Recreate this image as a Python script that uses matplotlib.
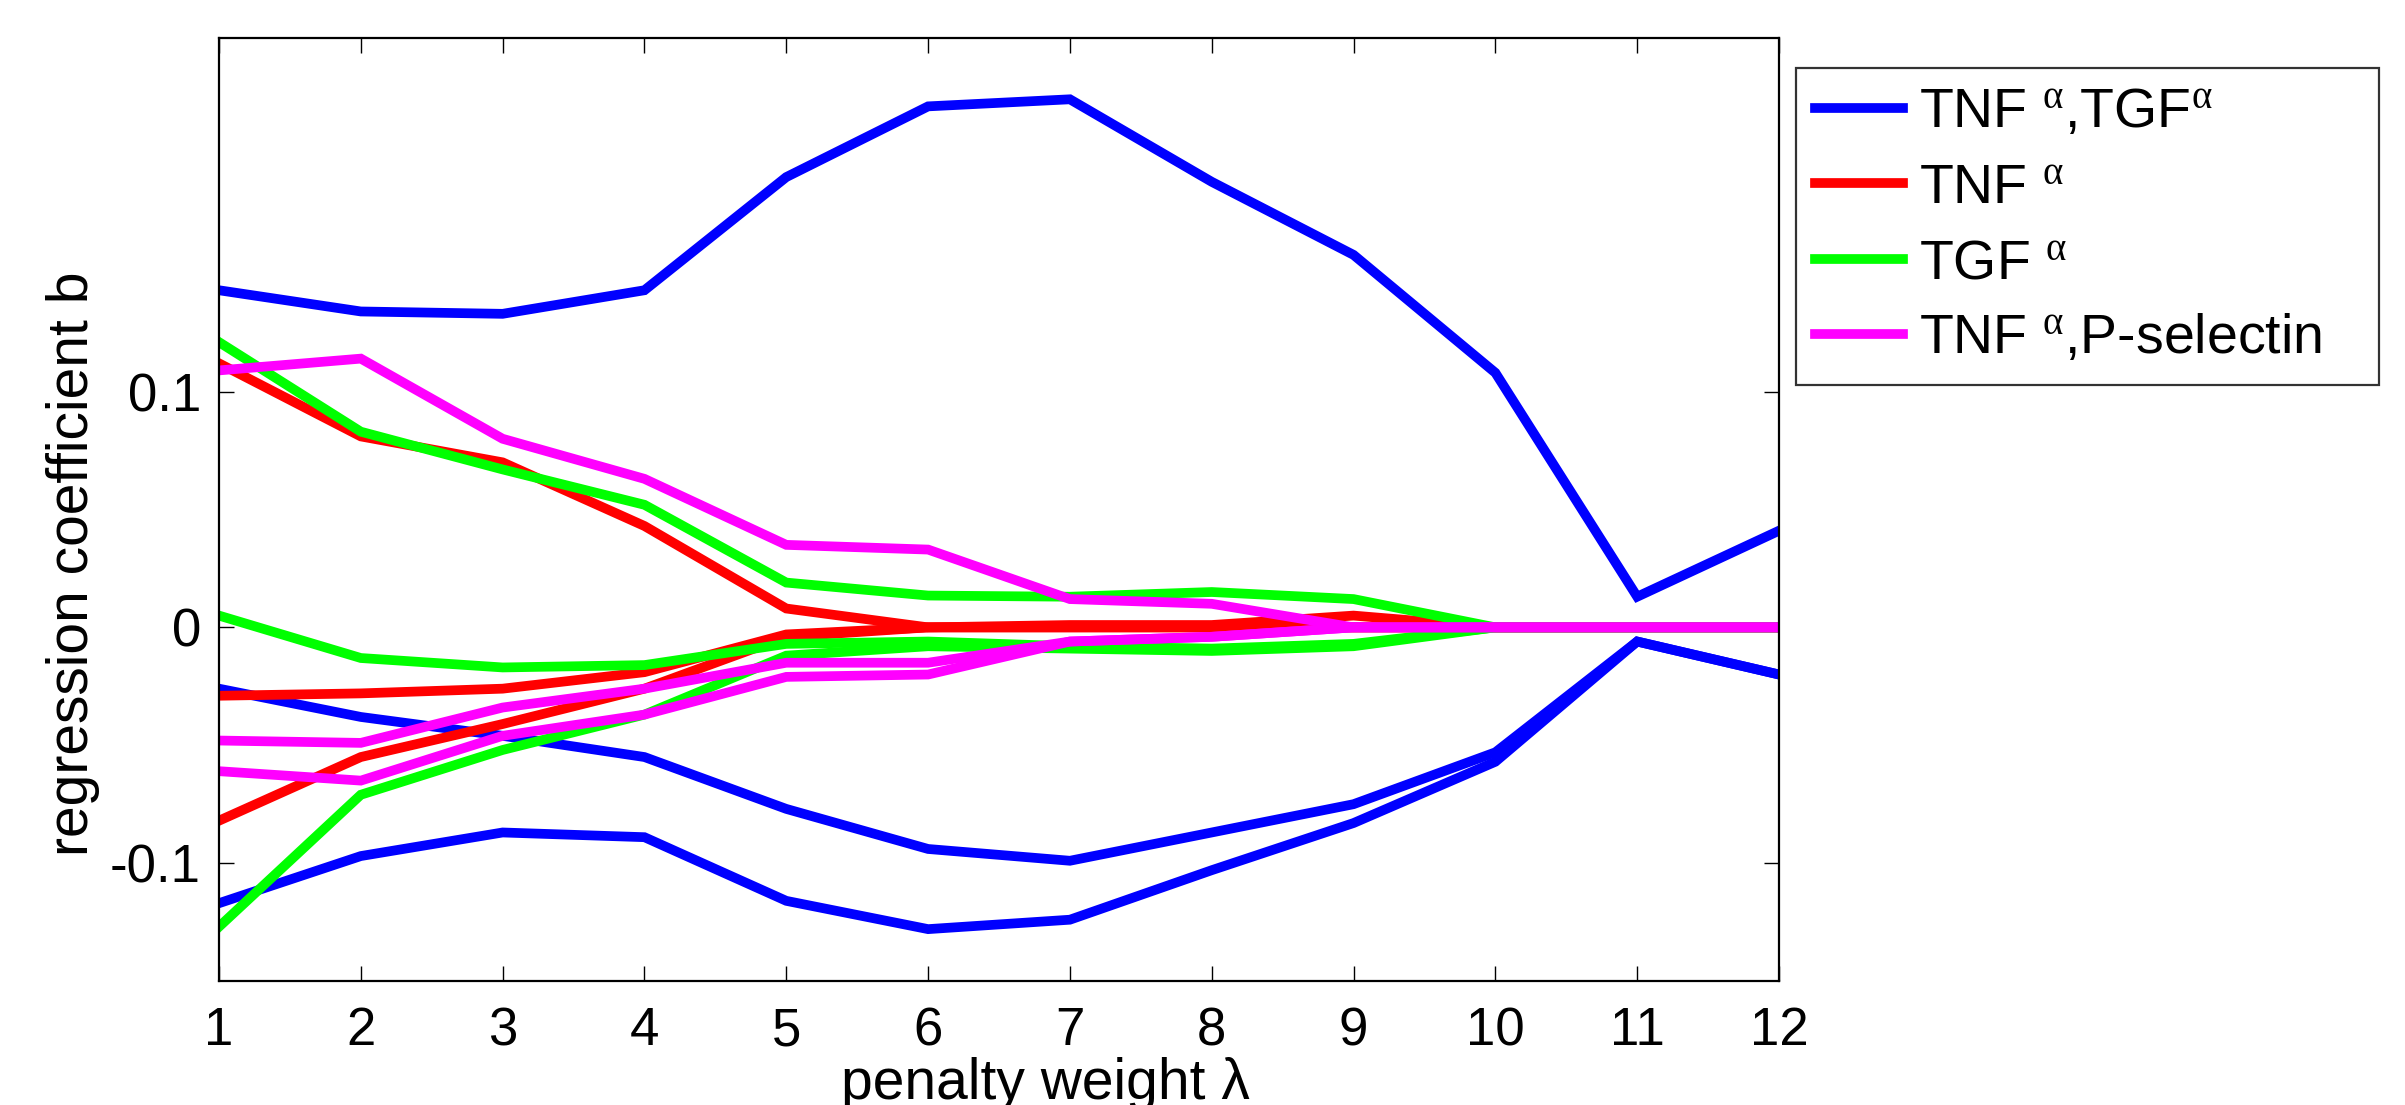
import matplotlib
matplotlib.use("Agg")
import matplotlib.pyplot as plt

plt.rcParams['font.family'] = ['Liberation Sans', 'DejaVu Sans']
plt.rcParams['axes.unicode_minus'] = False
plt.rcParams['mathtext.fontset'] = 'custom'
plt.rcParams['mathtext.rm'] = 'Liberation Serif'
plt.rcParams['mathtext.it'] = 'Liberation Serif:italic'

# penalty weight steps
lam = [1, 2, 3, 4, 5, 6, 7, 8, 9, 10, 11, 12]

# TNF alpha, TGF alpha (blue)
blue_a = [0.143, 0.134, 0.133, 0.143, 0.191, 0.221, 0.224, 0.189, 0.158, 0.108, 0.013, 0.041]
blue_b = [-0.026, -0.038, -0.046, -0.055, -0.077, -0.094, -0.099, -0.087, -0.075, -0.053, -0.006, -0.020]
blue_c = [-0.117, -0.097, -0.087, -0.089, -0.116, -0.128, -0.124, -0.103, -0.083, -0.057, -0.006, -0.020]

# TNF alpha (red)
red_a = [0.112, 0.081, 0.070, 0.043, 0.008, 0.0, 0.001, 0.001, 0.005, 0.0, 0.0, 0.0]
red_b = [-0.029, -0.028, -0.026, -0.019, -0.003, 0.0, 0.0, 0.0, 0.0, 0.0, 0.0, 0.0]
red_c = [-0.082, -0.055, -0.041, -0.026, -0.004, 0.0, 0.0, 0.0, 0.0, 0.0, 0.0, 0.0]

# TGF alpha (green)
green_a = [0.121, 0.083, 0.067, 0.052, 0.019, 0.0135, 0.013, 0.015, 0.012, 0.0, 0.0, 0.0]
green_b = [0.005, -0.013, -0.017, -0.016, -0.007, -0.006, -0.008, -0.009, -0.007, 0.0, 0.0, 0.0]
green_c = [-0.127, -0.071, -0.052, -0.037, -0.012, -0.008, -0.009, -0.010, -0.008, 0.0, 0.0, 0.0]

# TNF alpha, P-selectin (magenta)
mag_a = [0.109, 0.114, 0.080, 0.063, 0.035, 0.033, 0.012, 0.010, 0.0, 0.0, 0.0, 0.0]
mag_b = [-0.048, -0.049, -0.034, -0.026, -0.015, -0.015, -0.006, -0.004, 0.0, 0.0, 0.0, 0.0]
mag_c = [-0.061, -0.065, -0.046, -0.037, -0.021, -0.020, -0.006, -0.004, 0.0, 0.0, 0.0, 0.0]

labels = [r'TNF $^{\mathrm{α}}$,TGF$^{\mathrm{α}}$', r'TNF $^{\mathrm{α}}$',
          r'TGF $^{\mathrm{α}}$', r'TNF $^{\mathrm{α}}$,P-selectin']
groups = [(blue_a, blue_b, blue_c), (red_a, red_b, red_c),
          (green_a, green_b, green_c), (mag_a, mag_b, mag_c)]
colors = ['#0000ff', '#ff0000', '#00ff00', '#ff00ff']

fig = plt.figure(figsize=(24.05, 11.05), dpi=100)
ax = fig.add_axes([219/2405, 1 - 981/1105, 1560/2405, 943/1105])

handles = []
for g, c, lab in zip(groups, colors, labels):
    for i, s in enumerate(g):
        ln, = ax.plot(lam, s, color=c, linewidth=7, solid_joinstyle='miter')
        if i == 0:
            ln.set_label(lab)
            handles.append(ln)

ax.set_xlim(1, 12)
ax.set_ylim(-0.15, 0.25)
ax.set_xticks(lam)
ax.set_yticks([-0.1, 0, 0.1])
ax.set_yticklabels(['-0.1', '0', '0.1'])
ax.tick_params(direction='in', top=True, right=True, length=11, width=1,
               labelsize=38)
ax.tick_params(axis='x', pad=18)
ax.tick_params(axis='y', pad=13)
for sp in ax.spines.values():
    sp.set_linewidth(1.6)

ax.set_xlabel('penalty weight λ', fontsize=41)
ax.set_ylabel('regression coefficient b', fontsize=41)
ax.xaxis.set_label_coords(0.53, -0.081)
ax.yaxis.set_label_coords(-0.076, 0.442)

leg = fig.legend(handles=handles, loc='upper left',
                 bbox_to_anchor=(1796/2405, 1 - 68/1105, 583/2405, 0.0),
                 mode='expand', borderaxespad=0, fontsize=40,
                 handlelength=1.58, handletextpad=0.29, labelspacing=0.42,
                 borderpad=0.35, fancybox=False, frameon=True)
leg.get_frame().set_edgecolor('black')
leg.get_frame().set_linewidth(1.6)
for h in leg.get_lines():
    h.set_linewidth(7)

fig.savefig('out.png', dpi=100)
